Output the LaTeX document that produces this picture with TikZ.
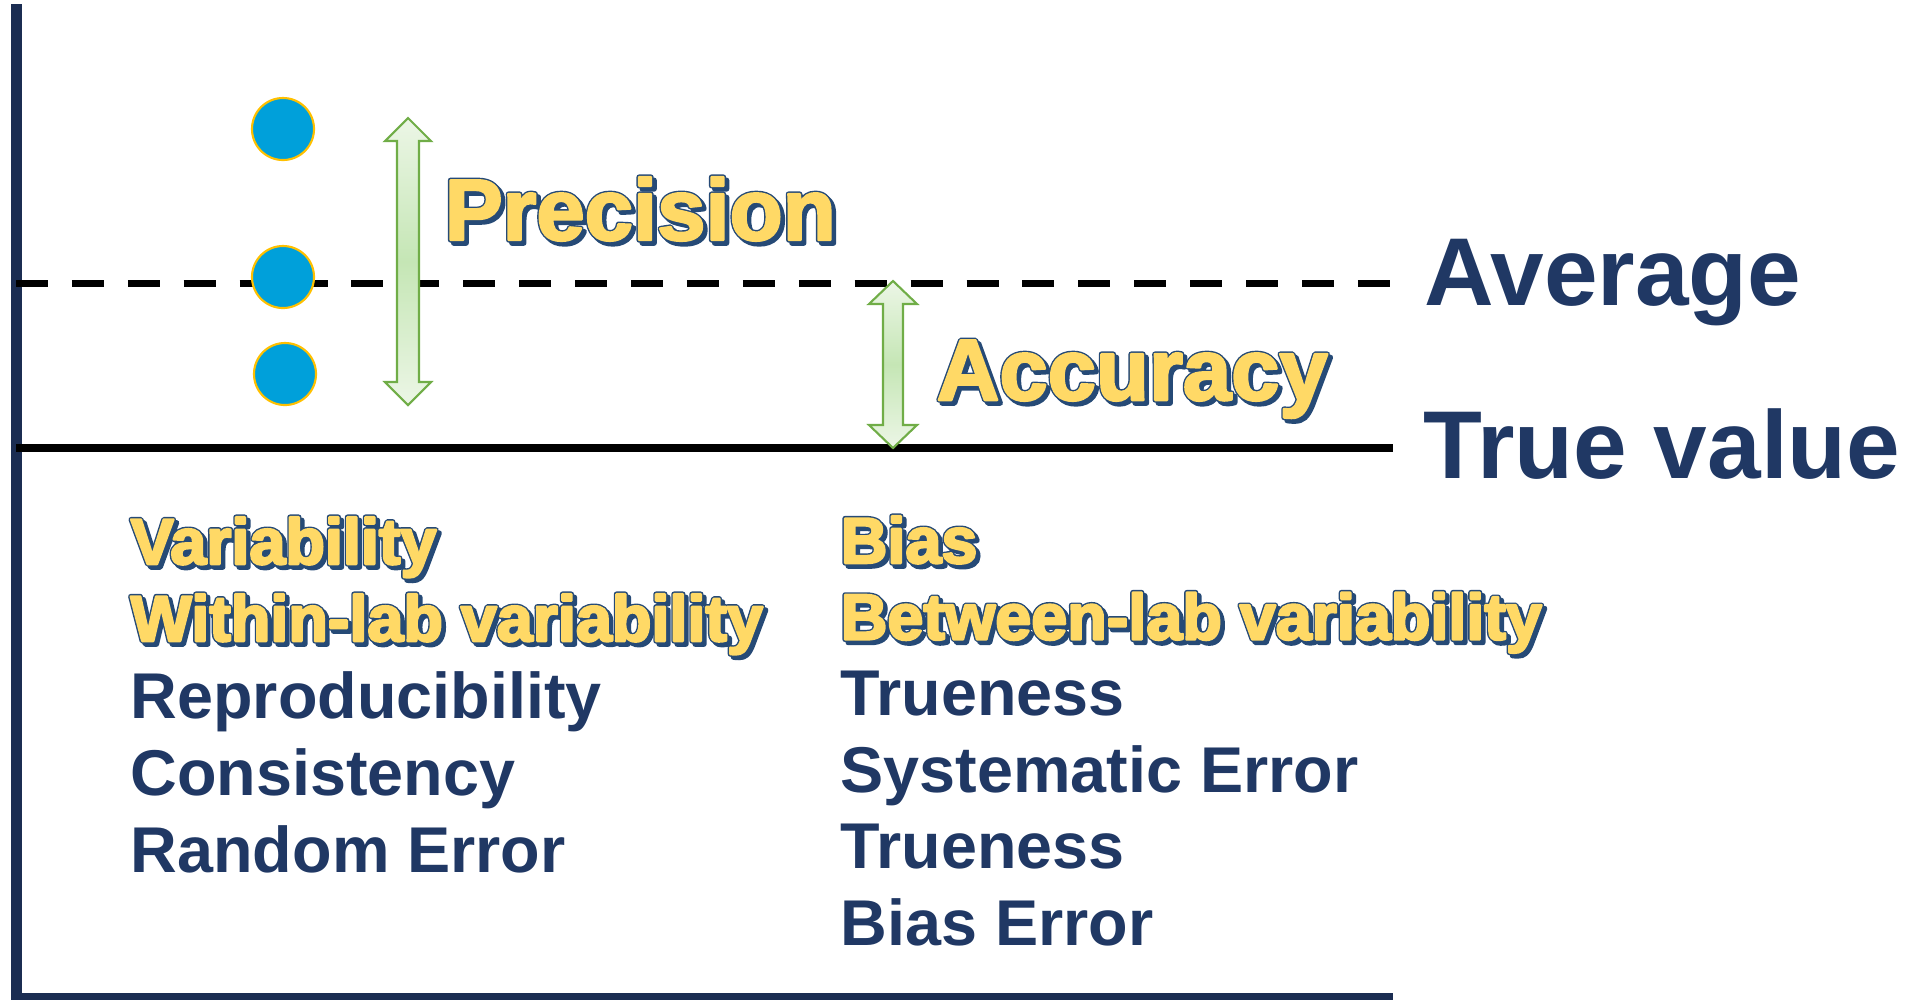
\documentclass[tikz,border=0pt]{standalone}
\usepackage{fontspec}
\setmainfont{Liberation Sans}
\usetikzlibrary{positioning}
\definecolor{navytxt}{RGB}{32,56,100}
\definecolor{axisc}{RGB}{27,45,82}
\definecolor{goldtxt}{RGB}{255,217,102}
\definecolor{edgec}{RGB}{38,74,118}
\definecolor{dotc}{RGB}{0,160,218}
\definecolor{ringc}{RGB}{255,192,0}
\definecolor{arrl}{RGB}{236,246,230}
\definecolor{arrd}{RGB}{197,230,181}
\definecolor{arre}{RGB}{112,173,71}
% outlined yellow text with a dark shadow (stroked glyphs)
\newcommand\strokew[1]{\special{pdf:literal direct 2 Tr #1 w 1 j}}
\newcommand\strokeoff{\special{pdf:literal direct 0 Tr}}
\newcommand\gold[1]{\makebox[0pt][l]{\hspace{0.9pt}\raisebox{-0.9pt}{\textcolor{edgec}{\strokew{1.5}#1}}}\makebox[0pt][l]{\textcolor{edgec}{\strokew{1.5}#1}}\textcolor{goldtxt}{\strokew{0.7}#1}\strokeoff}
\tikzset{lbl/.style={anchor=base west,inner sep=0pt,text=navytxt,font=\bfseries\fontsize{18.4pt}{22pt}\selectfont},
 mid/.style={lbl,font=\bfseries\fontsize{24.7pt}{30pt}\selectfont},
 big/.style={lbl,font=\bfseries\fontsize{27.4pt}{32pt}\selectfont},
 dot/.style={circle,draw=ringc,fill=dotc,line width=.6pt,minimum size=6.2mm,inner sep=0pt},
 blk/.style={draw=arre,line width=.6pt,top color=arrl,bottom color=arrl,middle color=arrd},
 wire/.style={line width=2.1pt},axis/.style={draw=axisc,line width=3.1pt}}
\begin{document}
\begin{tikzpicture}[x=.01cm,y=-.01cm]
\useasboundingbox (0,0) rectangle (1921,999);
\coordinate (top) at (16.5,4);\coordinate (org) at (16.5,998);\coordinate (end) at (1393,998);
\coordinate (avgL) at (16,283.5);\coordinate (avgR) at (1393,283.5);
\coordinate (truL) at (16,448);\coordinate (truR) at (1393,448);
% axes and reference lines
\draw[axis] (top)--(org)--(end);
\draw[wire,dash pattern=on 9.1pt off 6.8pt] (avgL)--(avgR);
\draw[wire] (truL)--(truR);
% block arrows
\draw[blk] (408,118)--(431,141)--(419,141)--(419,382)--(431,382)--(408,405)--(385,382)--(397,382)--(397,141)--(385,141)--cycle;
\draw[blk] (893,281)--(917,304)--(903,304)--(903,425)--(917,425)--(893,448)--(869,425)--(883,425)--(883,304)--(869,304)--cycle;
% measurements
\node[dot] (d1) at (283,129) {};\node[dot] (d2) at (283,277) {};\node[dot] (d3) at (285,374) {};
\node[mid] (prec) at (444,240) {\gold{Precision}};
\node[mid] (accu) at (936,400) {\gold{Accuracy}};
\node[big] (avg) at (1424,305) {Average};
\node[big] (tru) at (1423,478) {True value};
\foreach \txt [count=\i from 0] in {Variability,Within-lab variability}{\node[lbl] (p\i) at (130,564+77*\i) {\gold{\txt}};}
\foreach \txt [count=\i from 2] in {Reproducibility,Consistency,Random Error}{\node[lbl] (p\i) at (130,564+77*\i) {\txt};}
\foreach \txt [count=\i from 0] in {Bias,Between-lab variability}{\node[lbl] (a\i) at (840,563+76.4*\i) {\gold{\txt}};}
\foreach \txt [count=\i from 2] in {Trueness,Systematic Error,Trueness,Bias Error}{\node[lbl] (a\i) at (840,563+76.4*\i) {\txt};}
\end{tikzpicture}
\end{document}
